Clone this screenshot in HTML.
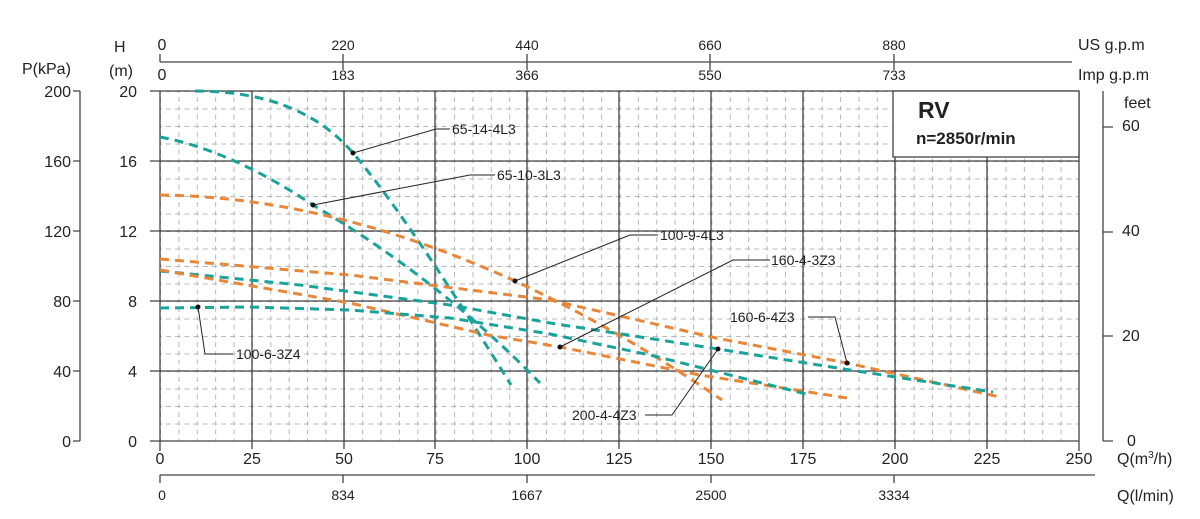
<!DOCTYPE html><html><head><style>body{margin:0;background:#fff}svg{display:block}text{font-family:"Liberation Sans",Arial,sans-serif;fill:#222}</style></head><body>
<svg width="1200" height="519" viewBox="0 0 1200 519">
<defs>
<pattern id="mg" x="160" y="91" width="18.38" height="17.5" patternUnits="userSpaceOnUse">
<line x1="0.5" y1="0" x2="0.5" y2="17.5" stroke="#b8b8b8" stroke-width="1" stroke-dasharray="5,4" stroke-dashoffset="-6"/>
<line x1="0" y1="0.5" x2="18.38" y2="0.5" stroke="#b8b8b8" stroke-width="1" stroke-dasharray="5,4" stroke-dashoffset="-6"/>
</pattern></defs>
<rect x="160" y="91" width="919" height="350" fill="url(#mg)"/>
<g stroke="#444" stroke-width="1.3" fill="none">
<path d="M252,91V441M344,91V441M435,91V441M527,91V441M619,91V441M711,91V441M803,91V441M895,91V441M987,91V441"/>
<path d="M150,91H1079M150,161H1079M150,231H1079M150,301H1079M150,371H1079M150,441H1079"/>
<path d="M160,91V451M1079,91V451M252,441v8M344,441v8M435,441v8M527,441v8M619,441v8M711,441v8M803,441v8M895,441v8M987,441v8"/>
<path d="M160,62H1072M160,62v-8M343,62v-8M527,62v-8M710,62v-8M894,62v-8M343,62v8M527,62v8M710,62v8M894,62v8"/>
<path d="M160,475H1095M160,475v8M343,475v8M527,475v8M711,475v8M894,475v8"/>
<path d="M80,91V441M73,91H80M73,161H80M73,231H80M73,301H80M73,371H80M73,441H80"/>
<path d="M1103,91V441M1103,441h10M1103,336h10M1103,232h10M1103,127h10"/>
</g>
<rect x="893" y="91" width="186" height="66" fill="#fff" stroke="#444" stroke-width="1.3"/>
<text x="918" y="118" font-size="23" font-weight="bold">RV</text>
<text x="916" y="144" font-size="17" font-weight="bold">n=2850r/min</text>
<g fill="none" stroke-width="3" stroke-dasharray="9,6" stroke-linejoin="round">
<path stroke="#1aa39a" d="M195,91 Q300,91 353,153 T511,385"/>
<path stroke="#1aa39a" d="M160,137 Q230,150 313,205 Q440,280 540,383"/>
<path stroke="#e8873a" d="M160,195 Q330,197 515,281 Q620,330 722,400"/>
<path stroke="#e8873a" d="M160,259 L350,275 L550,300 L716,338 L847,363 L1000,397"/>
<path stroke="#1aa39a" d="M160,271 L300,285 L450,305 L550,323 L718,349 L850,370 L993,392"/>
<path stroke="#e8873a" d="M160,270 L350,303 L488,335 L560,347 L700,375 L847,398"/>
<path stroke="#1aa39a" d="M160,308 L250,307 L350,310 L450,318 L550,334 L650,355 L810,395"/>
</g>
<g stroke="#222" stroke-width="1" fill="none">
<path d="M353,153L436,129H450M313,205L470,175H495M515,281L630,235H658M560,347L733,260H770M847,363L835,317H808M718,349L672,415H645M198,307L205,354H233"/>
</g>
<g fill="#111"><circle cx="353" cy="153" r="2.5"/><circle cx="313" cy="205" r="2.5"/><circle cx="515" cy="281" r="2.5"/><circle cx="560" cy="347" r="2.5"/><circle cx="847" cy="363" r="2.5"/><circle cx="718" cy="349" r="2.5"/><circle cx="198" cy="307" r="2.5"/></g>
<g font-size="14">
<text x="452" y="134">65-14-4L3</text><text x="497" y="180">65-10-3L3</text><text x="660" y="240">100-9-4L3</text><text x="771" y="265">160-4-3Z3</text><text x="730" y="322">160-6-4Z3</text><text x="572" y="420">200-4-4Z3</text><text x="236" y="359">100-6-3Z4</text>
</g>
<g font-size="16" text-anchor="end"><text x="71" y="97">200</text><text x="71" y="167">160</text><text x="71" y="237">120</text><text x="71" y="307">80</text><text x="71" y="377">40</text><text x="71" y="447">0</text>
<text x="137" y="97">20</text><text x="137" y="167">16</text><text x="137" y="237">12</text><text x="137" y="307">8</text><text x="137" y="377">4</text><text x="137" y="447">0</text></g>
<g font-size="16"><text x="22" y="74">P(kPa)</text><text x="114" y="52">H</text><text x="109" y="76">(m)</text>
<text x="1122" y="131">60</text><text x="1122" y="236">40</text><text x="1122" y="341">20</text><text x="1127" y="446">0</text><text x="1124" y="108">feet</text>
<text x="1078" y="50">US g.p.m</text><text x="1078" y="80">Imp g.p.m</text>
<text x="1117" y="464">Q(m<tspan font-size="10" dy="-6">3</tspan><tspan dy="6">/h)</tspan></text><text x="1117" y="501">Q(l/min)</text></g>
<g font-size="16" text-anchor="middle"><text x="160" y="464">0</text><text x="252" y="464">25</text><text x="344" y="464">50</text><text x="435" y="464">75</text><text x="527" y="464">100</text><text x="619" y="464">125</text><text x="711" y="464">150</text><text x="803" y="464">175</text><text x="895" y="464">200</text><text x="987" y="464">225</text><text x="1079" y="464">250</text>
<text x="162" y="50">0</text><text x="162" y="80">0</text></g>
<g font-size="14" text-anchor="middle"><text x="343" y="50">220</text><text x="527" y="50">440</text><text x="710" y="50">660</text><text x="894" y="50">880</text>
<text x="343" y="80">183</text><text x="527" y="80">366</text><text x="710" y="80">550</text><text x="894" y="80">733</text>
<text x="162" y="500">0</text><text x="343" y="500">834</text><text x="527" y="500">1667</text><text x="711" y="500">2500</text><text x="894" y="500">3334</text></g>
</svg></body></html>
